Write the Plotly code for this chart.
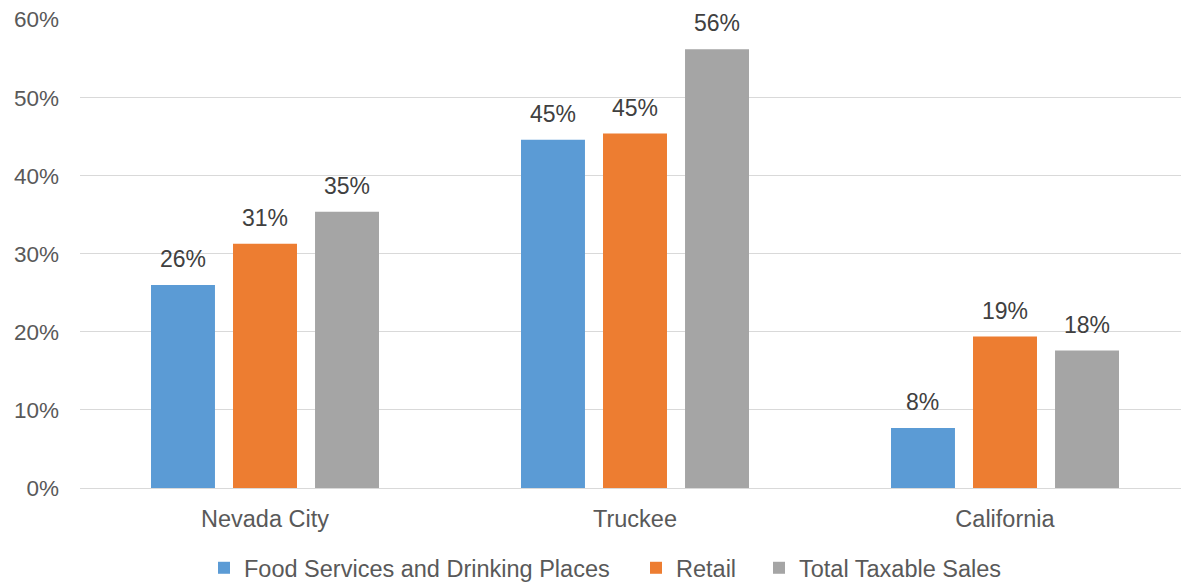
import plotly.graph_objects as go

# ---- data ----
categories = ["Nevada City", "Truckee", "California"]
food = [0.260, 0.446, 0.077]
retail = [0.313, 0.454, 0.194]
total = [0.354, 0.562, 0.176]
series_names = ["Food Services and Drinking Places", "Retail", "Total Taxable Sales"]
series_values = [food, retail, total]
y_tickvals = [0, 0.1, 0.2, 0.3, 0.4, 0.5, 0.6]
y_ticktext = ["0%", "10%", "20%", "30%", "40%", "50%", "60%"]

# ---- style ----
colors = ["#5B9BD5", "#ED7D31", "#A5A5A5"]
legend_widths = [387, 78, 0]
FONT = "Liberation Sans, Arial, sans-serif"
PAGE_OFFSET = 8  # default body margin of the html page
W, H = 1189 - PAGE_OFFSET, 583 - PAGE_OFFSET
ML, MR, MT, MB = 80 - PAGE_OFFSET, 0, 19 - PAGE_OFFSET, 95
BARGAP = 0.335
BARGROUPGAP = 0.22
x_range = [-0.5, 2.5 - 1 / 370]
y_range = [0, 0.6008]

fig = go.Figure()
for name, vals, col, lw in zip(series_names, series_values, colors, legend_widths):
    fig.add_trace(go.Bar(
        x=categories, y=vals, name=name,
        marker=dict(color=col, line=dict(width=0)),
        legendwidth=lw if lw else None,
    ))

# data labels placed above bars
plot_w = W - ML - MR
plot_h = H - MT - MB
cat_px = plot_w / (x_range[1] - x_range[0])
slot = cat_px * (1 - BARGAP) / len(series_values)
annotations = []
for i, vals in enumerate(series_values):
    for cat, v in zip(categories, vals):
        annotations.append(dict(
            x=cat, y=v, xref="x", yref="y", text=f"{v:.0%}",
            showarrow=False, yanchor="bottom", xanchor="center",
            xshift=(i - (len(series_values) - 1) / 2) * slot, yshift=11,
            font=dict(family=FONT, size=23, color="#404040"),
        ))

fig.update_layout(
    width=W, height=H,
    margin=dict(l=ML, r=MR, t=MT, b=MB, autoexpand=False),
    paper_bgcolor="white", plot_bgcolor="white",
    barmode="group", bargap=BARGAP, bargroupgap=BARGROUPGAP,
    font=dict(family=FONT, size=23, color="#595959"),
    annotations=annotations,
    showlegend=True,
    legend=dict(
        orientation="h", x=(204 - 80) / plot_w, xanchor="left",
        y=-(568 - 488) / plot_h, yanchor="middle",
        font=dict(family=FONT, size=23.5, color="#595959"),
        bgcolor="rgba(0,0,0,0)",
    ),
    xaxis=dict(
        range=x_range, showgrid=False, zeroline=False, showline=False,
        ticks="", tickfont=dict(family=FONT, size=23.5, color="#595959"),
        ticklabelstandoff=14, automargin=False,
    ),
    yaxis=dict(
        range=y_range, tickvals=y_tickvals, ticktext=y_ticktext,
        showgrid=True, gridcolor="#D9D9D9", gridwidth=1,
        zeroline=True, zerolinecolor="#D9D9D9", zerolinewidth=1,
        showline=False, ticks="",
        tickfont=dict(family=FONT, size=22.5, color="#595959"),
        ticklabelstandoff=20, automargin=False, ticklabeloverflow="allow",
    ),
)

fig.write_html("out.html")
